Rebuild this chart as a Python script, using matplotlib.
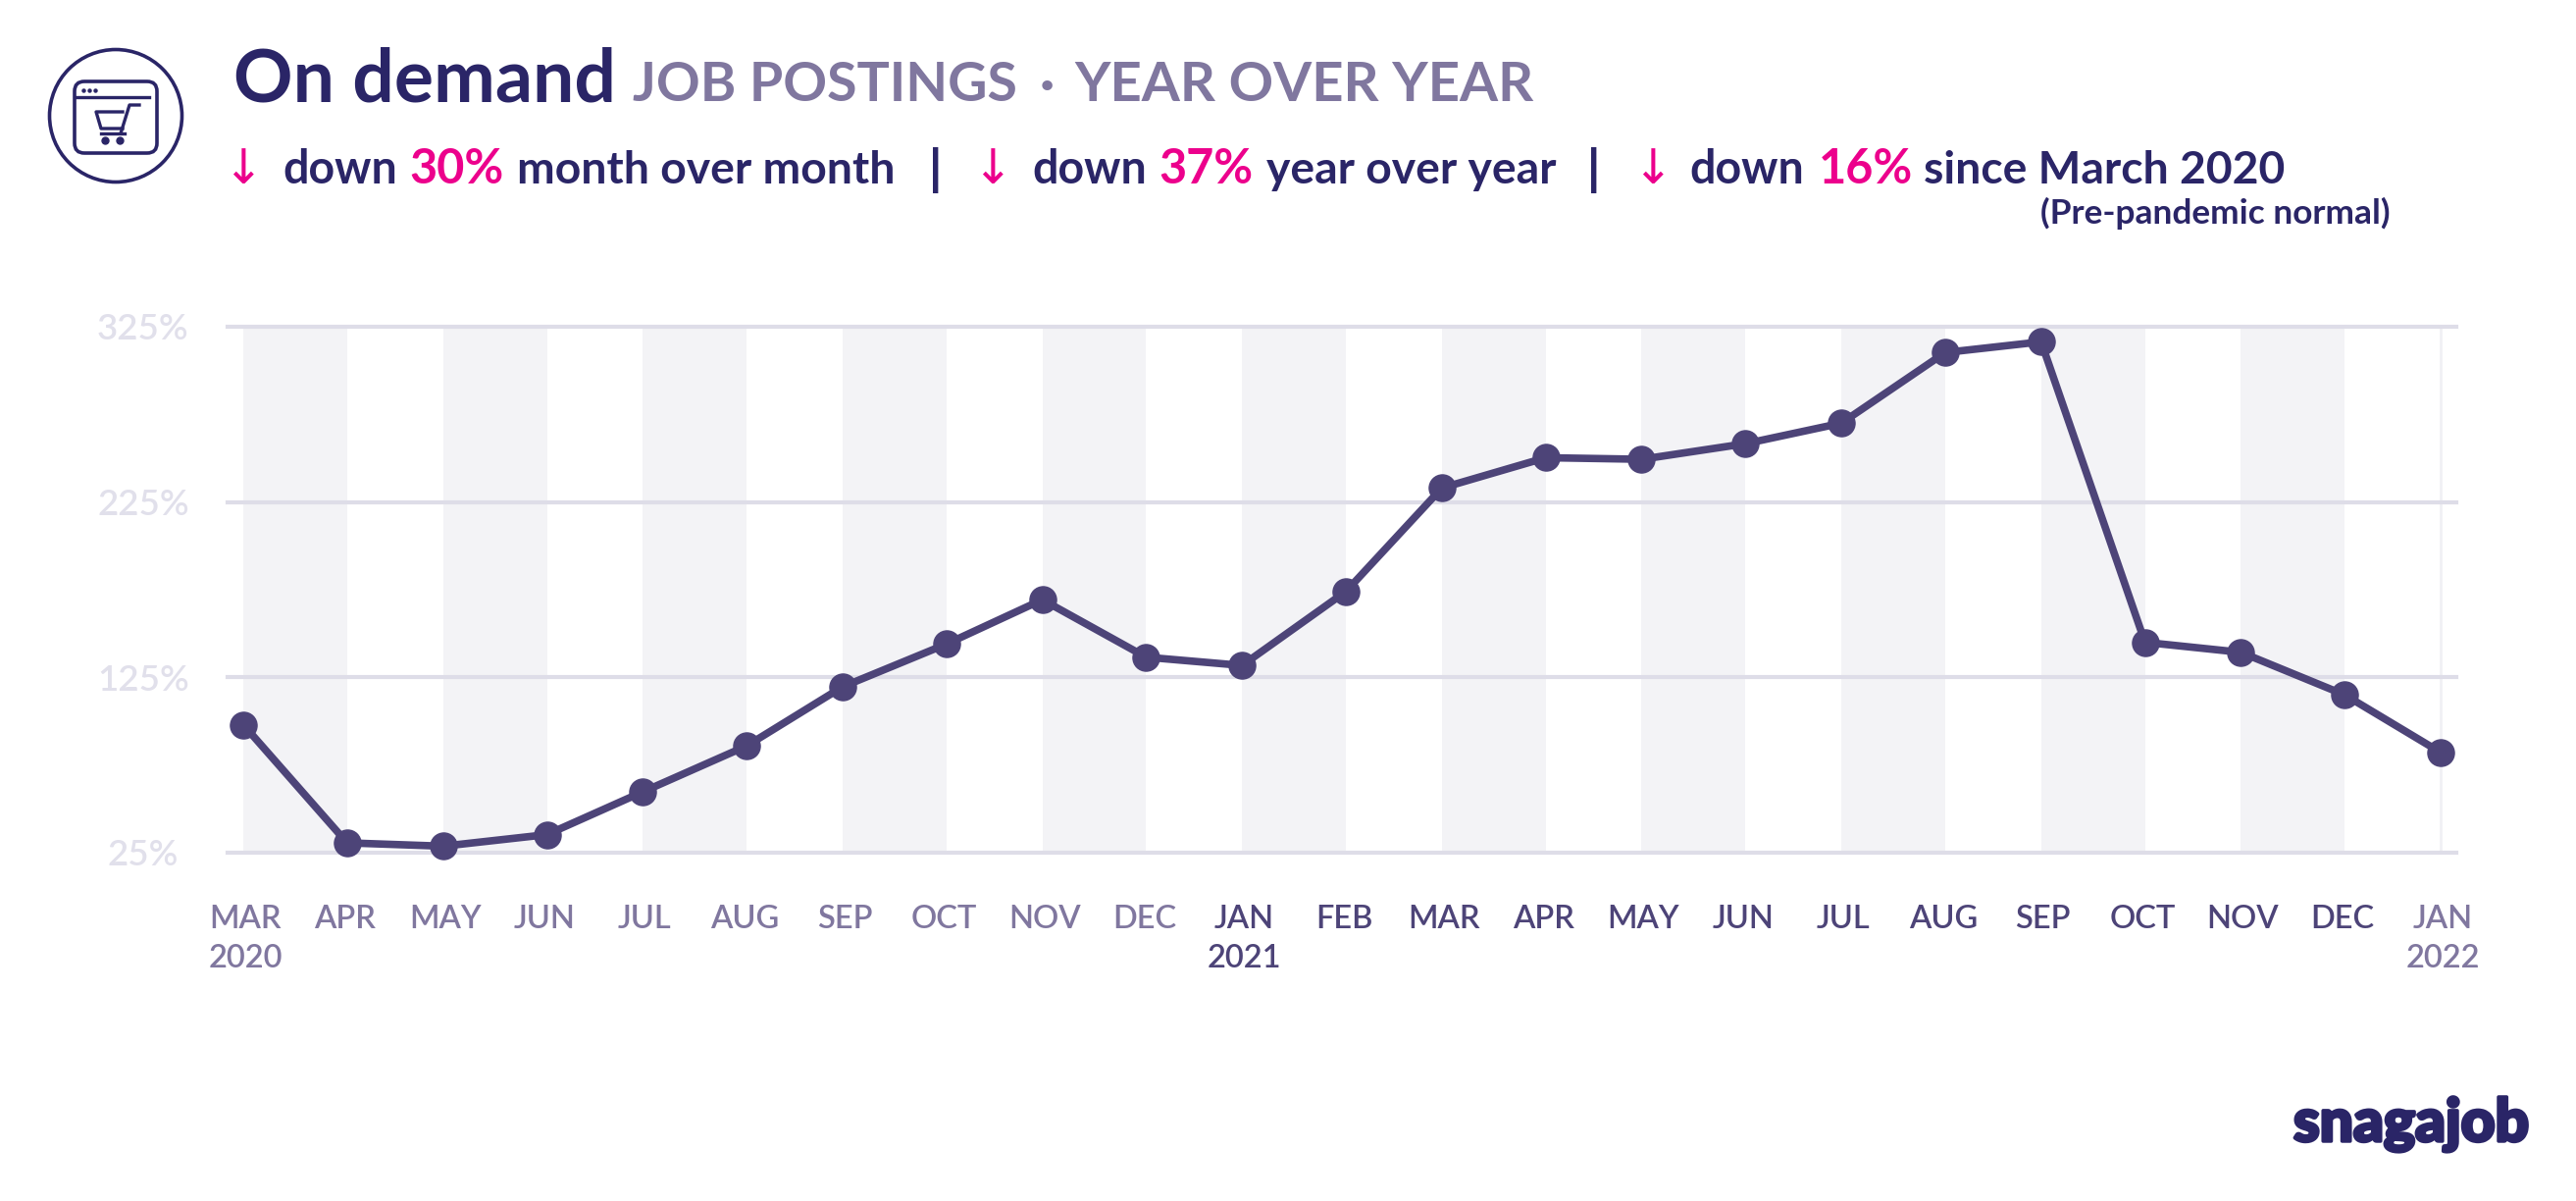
import numpy as np
import matplotlib
matplotlib.use('Agg')
import matplotlib.pyplot as plt
import matplotlib.patheffects as pe
from matplotlib.patches import Circle, FancyBboxPatch

W, H = 2626, 1224

months = ['MAR', 'APR', 'MAY', 'JUN', 'JUL', 'AUG', 'SEP', 'OCT', 'NOV', 'DEC', 'JAN', 'FEB',
          'MAR', 'APR', 'MAY', 'JUN', 'JUL', 'AUG', 'SEP', 'OCT', 'NOV', 'DEC', 'JAN']
years = {0: '2020', 10: '2021', 22: '2022'}
postings = [98, 30.6, 28.7, 35.3, 59.7, 85.9, 119.6, 144, 169.3, 136.5, 131.8, 174,
            233, 250.3, 249.4, 258.3, 270, 310.3, 316.4, 145, 139.3, 115, 82.2]
yticks = [25, 125, 225, 325]

NAVY = '#2A2567'
LINE = '#4D4478'
GREY = '#80779F'
PINK = '#EC008C'
GRID = '#DEDDE8'
BAND = '#F3F3F6'
TICK = '#E1E0EB'

plt.rcParams['font.family'] = ['Lato', 'DejaVu Sans']

fig = plt.figure(figsize=(W/100, H/100), dpi=100, facecolor='white')

# main chart, placed by pixel edges of the plot area
left, right, top, bottom = 232, 2504, 333, 869
ax = fig.add_axes([left/W, 1-bottom/H, (right-left)/W, (bottom-top)/H])
ax.set_xlim(-0.157, 22.157)
ax.set_ylim(25, 325)

idx = np.arange(len(months))
# odd months sit a little to the right, at the edge of the shaded band
xpos = idx + 0.04*(idx % 2)

for i in idx[:-1:2]:
    ax.axvspan(xpos[i], xpos[i+1], color=BAND, lw=0, zorder=0)
ax.axvline(xpos[-1], color='#F0F0F4', lw=2, zorder=1)
for t in yticks:
    ax.axhline(t, color=GRID, lw=3, zorder=2, clip_on=False)

ax.plot(xpos, postings, color=LINE, lw=5.5, marker='o', ms=19.5, zorder=3, clip_on=False)

for s in ax.spines.values():
    s.set_visible(False)

ax.set_yticks(yticks)
ax.set_yticklabels(['%d%%' % t for t in yticks], fontsize=26.5, color=TICK, ha='center', fontweight='semibold')
ax.tick_params(axis='y', length=0, pad=62)

ax.set_xticks(idx + 0.02)
labels = []
for i, m in enumerate(months):
    labels.append(m + '\n' + years[i] if i in years else m)
ax.set_xticklabels(labels, fontsize=23.5, linespacing=1.42, va='top')
ax.tick_params(axis='x', length=0, pad=38)
for i, lab in enumerate(ax.get_xticklabels()):
    lab.set_color(LINE if 10 <= i < 22 else GREY)
    lab.set_fontweight('semibold')

# overlay in pixel coordinates for header, icon and logo
ov = fig.add_axes([0, 0, 1, 1], zorder=5)
ov.set_xlim(0, W)
ov.set_ylim(H, 0)
ov.axis('off')


def put(x, y, s, size, color, weight='bold', **kw):
    return ov.text(x, y, s, fontsize=size, color=color, fontweight=weight, va='baseline', **kw)


put(238, 103, 'On demand', 54, NAVY, 'bold')
put(645, 103, 'JOB POSTINGS', 40, GREY, 'bold')
put(1060, 103, '·', 40, GREY, 'bold')
put(1095, 103, 'YEAR OVER YEAR', 40.5, GREY, 'bold')

row = 187
for ax_x, dx, pct, px, tail, tx in [(227, 288, '30%', 417, 'month over month', 527),
                                    (991, 1052, '37%', 1181, 'year over year', 1291),
                                    (1664, 1722, '16%', 1854, 'since March 2020', 1961)]:
    put(ax_x, row, '↓', 35, PINK, 'normal', family='DejaVu Sans')
    put(dx, row, 'down', 33.5, NAVY)
    put(px, row, pct, 35, PINK)
    put(tx, row, tail, 33.3, NAVY)
put(947, row+2, '|', 36, NAVY, 'black')
put(1618, row+2, '|', 36, NAVY, 'black')
put(2080, 228, '(Pre-pandemic normal)', 25.4, NAVY)

logo = put(2338, 1163, 'snagajob', 43.5, NAVY, 'black')
logo.set_path_effects([pe.withStroke(linewidth=2.5, foreground=NAVY)])

# shopping cart icon
ov.add_patch(Circle((118, 118), 67.5, fill=False, ec=NAVY, lw=2.6))
ov.add_patch(FancyBboxPatch((83, 90), 70, 59, boxstyle='round,pad=7,rounding_size=10',
                            fill=False, ec=NAVY, lw=2.6))
ov.plot([77, 152], [99, 99], color=NAVY, lw=2.4)
ov.plot([85, 91, 97], [92, 92, 92], ls='', marker='o', ms=2.2, color=NAVY)
ov.plot([142, 132, 123], [107, 107, 136], color=NAVY, lw=2.4)
ov.plot([125, 98, 103, 125], [114, 114, 131, 131], color=NAVY, lw=2.4)
ov.plot([103, 127], [136, 136], color=NAVY, lw=2.4)
ov.plot([107, 122], [143, 143], ls='', marker='o', ms=5, color=NAVY)

fig.savefig('out.png', dpi=100)
